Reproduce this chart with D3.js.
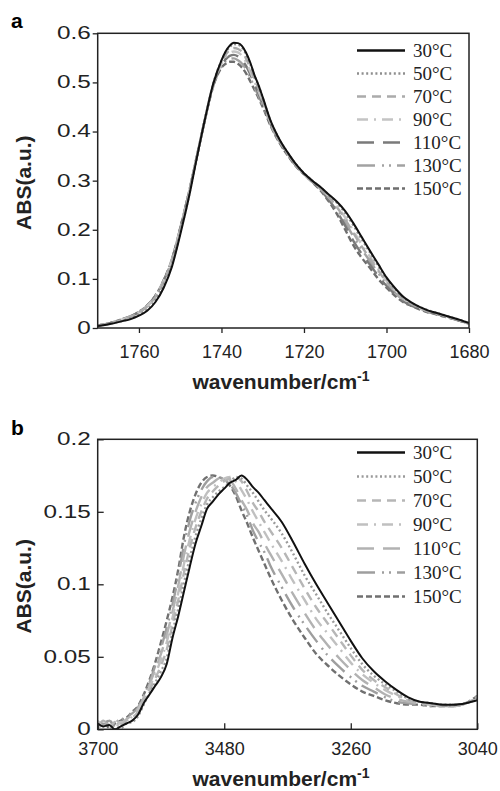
<!DOCTYPE html>
<html>
<head>
<meta charset="utf-8">
<script src="https://cdn.jsdelivr.net/npm/d3@7"></script>
<style>
  body { margin: 0; background: #fff; }
  svg { display: block; }
</style>
</head>
<body>
<svg width="500" height="791"></svg>
<script>
// legend entries
var temps = ["30°C", "50°C", "70°C", "90°C", "110°C", "130°C", "150°C"];

// panel a: C=O band
var waveA = [1770,1767,1764,1762,1760,1758,1756,1754,1752,1750,
  1748,1746,1744,1742,1740,1739,1738,1737,1736,1735,
  1734,1733,1732,1731,1730,1728,1726,1724,1722,1720,
  1718,1716,1714,1712,1710,1708,1706,1704,1702,1700,
  1698,1696,1694,1692,1690,1688,1686,1684,1682,1680];
var a30 = [.004,.008,.014,.018,.025,.035,.053,.082,.125,.190, .262,.345,.425,.497,.545, .563,.575,.581,.580,.574,.560,.540,.515,.494,.470, .420,.385,.358,.334,.315, .300,.287,.272,.257,.238, .213,.185,.157,.130,.103, .082,.064,.052,.043,.036, .031,.026,.021,.016,.010];
var a50 = [.004,.009,.015,.020,.027,.038,.057,.087,.130,.194, .265,.346,.425,.497,.544, .561,.572,.578,.577,.571,.557,.537,.513,.493,.468, .419,.384,.357,.334,.315, .300,.286,.271,.255,.234, .209,.181,.154,.127,.101, .080,.063,.051,.043,.036, .031,.026,.021,.016,.010];
var a70 = [.005,.010,.017,.023,.031,.044,.063,.094,.137,.200, .270,.347,.425,.496,.541, .556,.566,.570,.568,.562,.548,.529,.507,.487,.464, .417,.383,.355,.332,.314, .299,.284,.266,.246,.221, .193,.166,.141,.117,.094, .075,.059,.049,.041,.034, .030,.025,.020,.015,.010];
var a90 = [.005,.010,.018,.023,.032,.045,.065,.096,.139,.202, .271,.348,.425,.495,.538, .552,.560,.563,.561,.554,.541,.522,.501,.482,.461, .415,.382,.356,.333,.314, .299,.285,.267,.248,.225, .197,.170,.145,.120,.096, .076,.060,.050,.041,.035, .030,.025,.020,.015,.010];
var a110 = [.005,.010,.018,.024,.033,.046,.066,.097,.140,.203, .272,.348,.425,.494,.535, .547,.554,.556,.553,.546,.533,.516,.496,.477,.457, .414,.381,.353,.331,.313, .298,.281,.261,.237,.208, .177,.151,.129,.106,.086, .069,.055,.046,.039,.033, .029,.024,.019,.014,.009];
var a130 = [.005,.010,.018,.023,.032,.045,.065,.096,.139,.202, .271,.348,.425,.493,.533, .543,.548,.549,.545,.538,.526,.509,.490,.472,.454, .412,.379,.354,.332,.314, .298,.283,.264,.242,.215, .186,.160,.136,.112,.090, .072,.057,.048,.040,.034, .029,.024,.020,.015,.009];
var a150 = [.005,.010,.018,.024,.033,.046,.066,.097,.140,.203, .272,.348,.425,.492,.530, .538,.542,.542,.538,.530,.518,.502,.485,.468,.450, .410,.378,.352,.330,.313, .297,.280,.258,.232,.200, .168,.143,.122,.100,.082, .066,.053,.045,.038,.032, .028,.023,.019,.014,.009];
var xTicksA = [1760, 1740, 1720, 1700, 1680];
var yTicksA = [0, 0.1, 0.2, 0.3, 0.4, 0.5, 0.6];

// panel b: O-H band
var waveB = [3700,3690,3680,3670,3660,3650,3640,3630,3620,3610,
  3600,3590,3580,3570,3560,3550,3540,3530,3520,3510,
  3500,3490,3480,3470,3460,3450,3440,3430,3420,3410,
  3400,3380,3360,3340,3320,3300,3280,3260,3240,3220,
  3200,3180,3160,3140,3120,3100,3080,3060,3040];
var b30 = [.004,.002,.003,.000,.002,.004,.006,.010,.018,.024, .030,.036,.045,.063,.078, .095,.112,.128,.140,.152, .157,.162,.166,.170,.172, .175,.172,.167,.163,.158, .153, .143,.129,.114,.100,.087, .074,.061,.049,.040,.033, .027,.022,.019,.018,.017, .017,.018,.020];
var b50 = [.003,.004,.006,.002,.001,.004,.005,.009,.017,.025, .032,.040,.049,.067,.083, .101,.118,.133,.145,.155, .160,.164,.167,.170,.174, .173,.168,.163,.157,.151, .146, .135,.121,.106,.093,.080, .068,.056,.045,.037,.031, .026,.021,.019,.018,.017, .017,.018,.021];
var b70 = [.001,.003,.000,.005,.003,.006,.008,.012,.020,.027, .035,.044,.055,.072,.089, .108,.125,.139,.150,.159, .164,.168,.171,.173,.174, .171,.164,.156,.150,.143, .137, .125,.111,.097,.084,.073, .062,.051,.041,.034,.029, .024,.020,.018,.017,.017, .017,.018,.021];
var b90 = [.006,.002,.004,.001,.005,.005,.009,.013,.021,.029, .038,.048,.060,.077,.094, .114,.131,.145,.155,.163, .167,.170,.173,.174,.171, .165,.158,.150,.143,.136, .129, .116,.102,.089,.076,.066, .056,.046,.038,.032,.027, .023,.020,.018,.017,.017, .016,.018,.022];
var b110 = [.002,.006,.003,.007,.004,.007,.010,.014,.022,.031, .041,.052,.065,.081,.099, .120,.137,.150,.160,.167, .170,.173,.174,.172,.166, .158,.151,.142,.136,.128, .121, .107,.093,.080,.068,.058, .049,.041,.034,.029,.024, .021,.019,.018,.017,.016, .016,.018,.022];
var b130 = [.005,.003,.006,.002,.006,.009,.011,.015,.023,.032, .044,.056,.070,.086,.105, .127,.144,.156,.165,.171, .174,.174,.172,.169,.163, .155,.147,.137,.129,.122, .113, .098,.084,.072,.061,.051, .043,.036,.030,.026,.022, .019,.018,.017,.016,.016, .016,.018,.023];
var b150 = [.002,.005,.001,.004,.006,.008,.012,.016,.024,.034, .046,.060,.075,.091,.110, .133,.150,.162,.170,.174, .175,.174,.172,.168,.161, .151,.142,.132,.123,.114, .105, .089,.075,.063,.052,.044, .037,.031,.026,.023,.020, .018,.017,.017,.016,.016, .016,.018,.023];
var xTicksB = [3700, 3480, 3260, 3040];
var yTicksB = [0, 0.05, 0.1, 0.15, 0.2];

// line styles, one per temperature
var dashes = ["", "2,2.6", "9,6", "11,6,2,6", "17,9", "18,7,2,5,2,6", "6,3"];
var greysA = ["#111", "#8e8e8e", "#ababab", "#c4c4c4", "#7a7a7a", "#a2a2a2", "#6e6e6e"];
var greysB = ["#111", "#9a9a9a", "#b6b6b6", "#c0c0c0", "#b2b2b2", "#9e9e9e", "#707070"];

const svg = d3.select("svg");
const sans = "'Liberation Sans', Arial, sans-serif";
const serif = "'Liberation Serif', 'Times New Roman', serif";

function drawPanel(p) {
  const x = d3.scaleLinear().domain(p.xDomain).range([p.left, p.right]);
  const y = d3.scaleLinear().domain([0, p.yMax]).range([p.bottom, p.top]);

  svg.append("clipPath").attr("id", "clip" + p.name)
    .append("rect")
    .attr("x", p.left).attr("y", p.top)
    .attr("width", p.right - p.left).attr("height", p.bottom - p.top);

  const line = d3.line()
    .x((d, i) => x(p.waves[i]))
    .y(d => y(d))
    .curve(d3.curveMonotoneX);

  // hottest first so the 30°C line ends up on top
  const g = svg.append("g").attr("clip-path", "url(#clip" + p.name + ")");
  for (let k = p.series.length - 1; k >= 0; k--) {
    g.append("path")
      .attr("d", line(p.series[k]))
      .attr("fill", "none")
      .attr("stroke", p.greys[k])
      .attr("stroke-width", k == 0 ? 2 : 2.4)
      .attr("stroke-dasharray", dashes[k]);
  }

  const tick = p.inward ? -6 : 5;
  const xAxis = svg.append("g")
    .attr("transform", `translate(0,${p.bottom})`)
    .call(d3.axisBottom(x).tickValues(p.xTicks).tickSize(tick).tickPadding(p.inward ? 13 : 12).tickFormat(d3.format("d")));
  const yAxis = svg.append("g")
    .attr("transform", `translate(${p.left},0)`)
    .call(d3.axisLeft(y).tickValues(p.yTicks).tickSize(tick).tickFormat(d => String(+d.toFixed(2))));

  [xAxis, yAxis].forEach(a => {
    a.select(".domain").remove();
    a.selectAll("line").attr("stroke", "#222").attr("stroke-width", 1.3);
  });
  xAxis.selectAll("text").attr("font-family", sans).attr("font-size", 18).attr("fill", "#222");
  // y labels in the original are drawn noticeably wider
  yAxis.selectAll("text")
    .attr("font-family", sans).attr("font-size", 18).attr("fill", "#222")
    .attr("x", 0)
    .attr("dy", "0.3em")
    .attr("transform", "translate(-7,0) scale(1.35,1)");

  svg.append("rect")
    .attr("x", p.left).attr("y", p.top)
    .attr("width", p.right - p.left).attr("height", p.bottom - p.top)
    .attr("fill", "none").attr("stroke", "#222").attr("stroke-width", 1.5);

  // panel letter
  svg.append("text").attr("x", 11).attr("y", p.letterY)
    .attr("font-family", sans).attr("font-weight", "bold").attr("font-size", 21)
    .text(p.name);

  // axis titles
  svg.append("text")
    .attr("transform", `translate(31,${(p.top + p.bottom) / 2 + 2}) rotate(-90)`)
    .attr("text-anchor", "middle")
    .attr("font-family", sans).attr("font-weight", "bold").attr("font-size", 21).attr("fill", "#222")
    .text("ABS(a.u.)");

  const xt = svg.append("text")
    .attr("x", 281).attr("y", p.xTitleY)
    .attr("text-anchor", "middle")
    .attr("font-family", sans).attr("font-weight", "bold").attr("font-size", 21).attr("fill", "#222");
  xt.append("tspan").text("wavenumber/cm");
  xt.append("tspan").attr("dy", -8).attr("font-size", 14).text("-1");

  // legend
  const leg = svg.append("g");
  temps.forEach((t, k) => {
    const by = p.legendTop + k * p.legendStep;
    leg.append("line")
      .attr("x1", 357).attr("x2", 405)
      .attr("y1", by - 6).attr("y2", by - 6)
      .attr("stroke", p.greys[k]).attr("stroke-width", 2.6)
      .attr("stroke-dasharray", dashes[k]);
    leg.append("text")
      .attr("x", 413).attr("y", by)
      .attr("font-family", serif).attr("font-size", 19).attr("fill", "#222")
      .text(t);
  });
}

drawPanel({
  name: "a", waves: waveA, series: [a30, a50, a70, a90, a110, a130, a150], greys: greysA,
  xDomain: [1770, 1680], xTicks: xTicksA, yMax: 0.6, yTicks: yTicksA,
  left: 97.7, right: 469, top: 33.3, bottom: 328, inward: false,
  letterY: 28, xTitleY: 389, legendTop: 56.5, legendStep: 23
});

drawPanel({
  name: "b", waves: waveB, series: [b30, b50, b70, b90, b110, b130, b150], greys: greysB,
  xDomain: [3700, 3040], xTicks: xTicksB, yMax: 0.2, yTicks: yTicksB,
  left: 97.7, right: 477.3, top: 439.3, bottom: 729.3, inward: true,
  letterY: 435, xTitleY: 786, legendTop: 458.5, legendStep: 24
});
</script>
</body>
</html>
